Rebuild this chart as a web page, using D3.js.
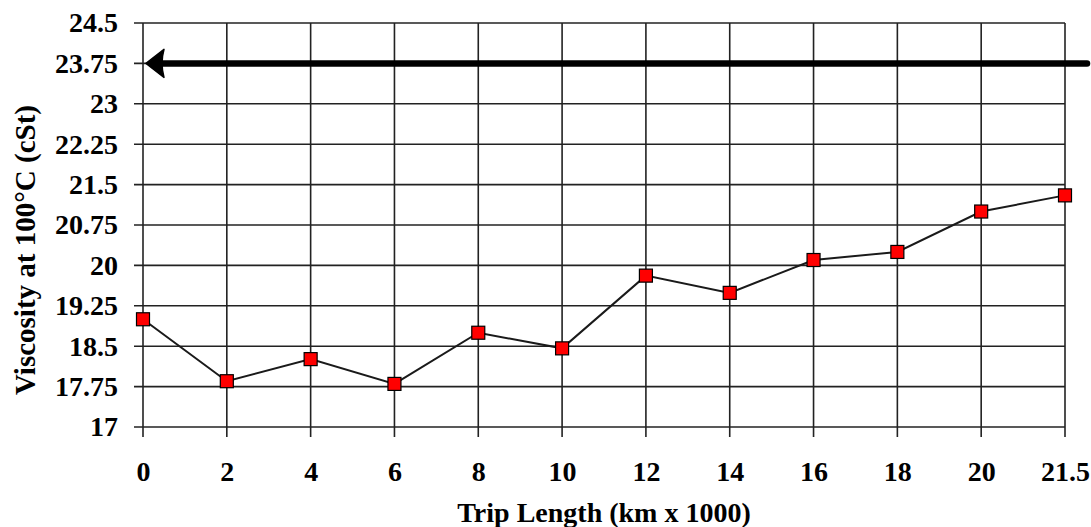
<!DOCTYPE html>
<html>
<head>
<meta charset="utf-8">
<script src="https://cdn.jsdelivr.net/npm/d3@7"></script>
<style>
  html, body { margin: 0; padding: 0; background: #fff; }
  svg { display: block; }
  text { font-family: "Liberation Serif", "Times New Roman", serif !important; font-weight: bold; fill: #000; }
</style>
</head>
<body>
<script>
const categories = ["0", "2", "4", "6", "8", "10", "12", "14", "16", "18", "20", "21.5"];
const viscosity = [19.0, 17.85, 18.26, 17.8, 18.75, 18.46, 19.81, 19.49, 20.1, 20.25, 21.0, 21.3];
const yTickLabels = ["17", "17.75", "18.5", "19.25", "20", "20.75", "21.5", "22.25", "23", "23.75", "24.5"];
const limitValue = 23.75;
const xTitle = "Trip Length (km x 1000)";
const yTitle = "Viscosity at 100°C (cSt)";

(function () {
const W = 1091, H = 527;
const mLeft = 143, mRight = 1065, mTop = 23, mBottom = 427;

const svg = d3.select("body").append("svg").attr("width", W).attr("height", H);

const x = d3.scalePoint().domain(categories).range([mLeft, mRight]);
const yTicks = yTickLabels.map(Number);
const y = d3.scaleLinear().domain([d3.min(yTicks), d3.max(yTicks)]).range([mBottom, mTop]);

const gridColor = "#222";

// horizontal grid lines
svg.append("g").selectAll("line").data(yTicks).join("line")
  .attr("x1", mLeft - 9).attr("x2", mRight)
  .attr("y1", d => y(d)).attr("y2", d => y(d))
  .attr("stroke", gridColor).attr("stroke-width", 1.6);

// vertical grid lines
svg.append("g").selectAll("line").data(categories).join("line")
  .attr("x1", d => x(d)).attr("x2", d => x(d))
  .attr("y1", mTop).attr("y2", mBottom + 10)
  .attr("stroke", gridColor).attr("stroke-width", 1.6);

// y axis labels
const yAxis = d3.axisLeft(y).tickValues(yTicks).tickSize(9).tickPadding(16)
  .tickFormat((d, i) => yTickLabels[i]);
const gy = svg.append("g").attr("transform", `translate(${mLeft},0)`).call(yAxis);
gy.select(".domain").remove();
gy.selectAll("line").remove();
gy.attr("font-family", null).attr("font-size", null);
gy.selectAll("text").style("font-size", "28px");

// x axis labels
const xAxis = d3.axisBottom(x).tickSize(10).tickPadding(24);
const gx = svg.append("g").attr("transform", `translate(0,${mBottom})`).call(xAxis);
gx.select(".domain").remove();
gx.selectAll("line").remove();
gx.attr("font-family", null).attr("font-size", null);
gx.selectAll("text").style("font-size", "28px");

// data line
const line = d3.line().x((d, i) => x(categories[i])).y(d => y(d));
svg.append("path").datum(viscosity)
  .attr("d", line).attr("fill", "none")
  .attr("stroke", "#1a1a1a").attr("stroke-width", 2);

// markers
const ms = 13;
svg.append("g").selectAll("rect").data(viscosity).join("rect")
  .attr("x", (d, i) => x(categories[i]) - ms / 2)
  .attr("y", d => y(d) - ms / 2)
  .attr("width", ms).attr("height", ms)
  .attr("fill", "#ff0000").attr("stroke", "#000").attr("stroke-width", 1.2);

// limit arrow
const ay = y(limitValue);
const tipX = x(categories[0]) + 3;
const headLen = 18, headHalf = 14;
svg.append("line")
  .attr("x1", tipX + headLen - 2).attr("x2", W - 4)
  .attr("y1", ay).attr("y2", ay)
  .attr("stroke", "#000").attr("stroke-width", 6.5).attr("stroke-linecap", "round");
svg.append("path")
  .attr("d", `M${tipX},${ay} L${tipX + headLen},${ay - headHalf} Q${tipX + headLen - 4},${ay} ${tipX + headLen},${ay + headHalf} Z`)
  .attr("fill", "#000").attr("stroke", "#000").attr("stroke-width", 1.5).attr("stroke-linejoin", "round");

// axis titles
svg.append("text")
  .attr("x", (mLeft + mRight) / 2).attr("y", 522)
  .attr("text-anchor", "middle").style("font-size", "28px")
  .text(xTitle);

svg.append("text")
  .attr("transform", `translate(35,250) rotate(-90)`)
  .attr("text-anchor", "middle").style("font-size", "29px")
  .text(yTitle);
})();
</script>
</body>
</html>
